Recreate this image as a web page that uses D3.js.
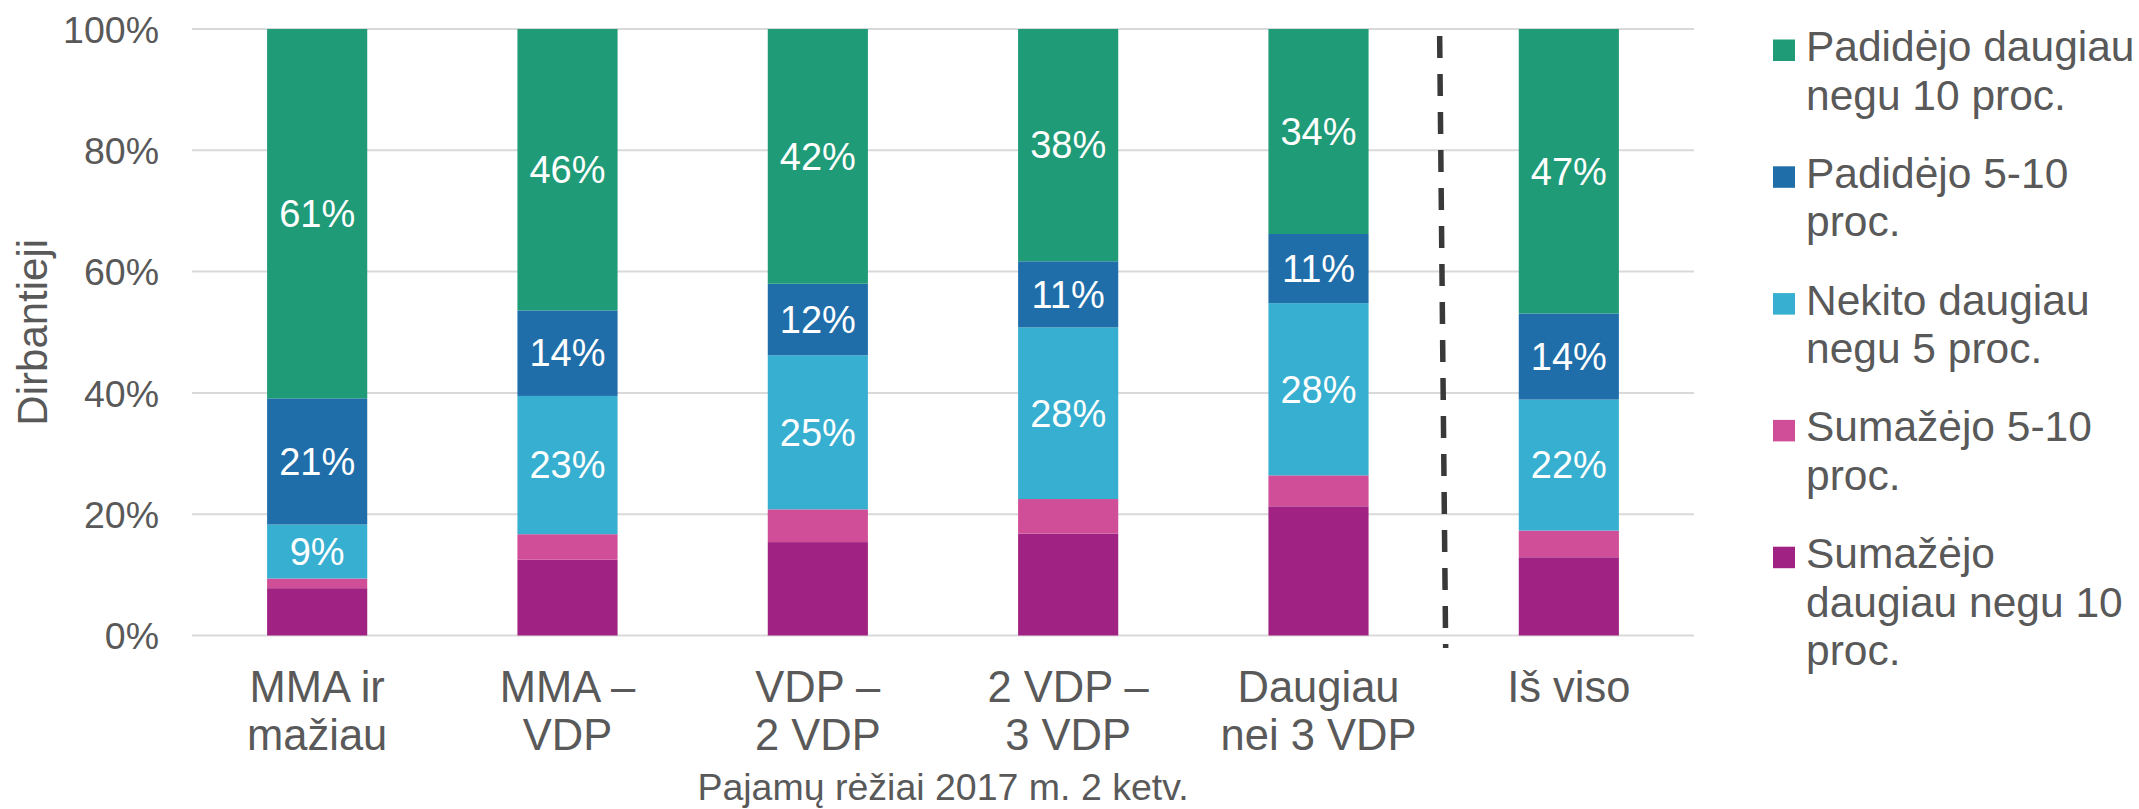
<!DOCTYPE html>
<html>
<head>
<meta charset="utf-8">
<script src="https://cdn.jsdelivr.net/npm/d3@7"></script>
<style>
  html, body { margin: 0; padding: 0; background: #ffffff; }
  svg { display: block; font-family: "Liberation Sans", Arial, sans-serif; }
</style>
</head>
<body>
<svg id="chart" width="2139" height="809"></svg>
<script>
// ---- data ----
const categories = ["MMA ir mažiau", "MMA – VDP", "VDP – 2 VDP", "2 VDP – 3 VDP", "Daugiau nei 3 VDP", "Iš viso"];
const categoryLines = [["MMA ir", "mažiau"], ["MMA –", "VDP"], ["VDP –", "2 VDP"], ["2 VDP –", "3 VDP"], ["Daugiau", "nei 3 VDP"], ["Iš viso"]];
const seriesKeys = ["decMore10", "dec5to10", "unchanged", "inc5to10", "incMore10"];
const seriesNames = ["Sumažėjo daugiau negu 10 proc.", "Sumažėjo 5-10 proc.", "Nekito daugiau negu 5 proc.", "Padidėjo 5-10 proc.", "Padidėjo daugiau negu 10 proc."];
const legendLines = [["Sumažėjo", "daugiau negu 10", "proc."], ["Sumažėjo 5-10", "proc."], ["Nekito daugiau", "negu 5 proc."], ["Padidėjo 5-10", "proc."], ["Padidėjo daugiau", "negu 10 proc."]];
const decMore10 = [7.8, 12.5, 15.4, 16.8, 21.3, 12.9];
const dec5to10  = [1.6, 4.2, 5.4, 5.7, 5.1, 4.4];
const unchanged = [8.9, 22.8, 25.4, 28.3, 28.4, 21.6];
const inc5to10  = [20.8, 14.1, 11.8, 10.9, 11.4, 14.2];
const incMore10 = [60.9, 46.4, 42.0, 38.3, 33.8, 46.9];
const labeledSeries = ["unchanged", "inc5to10", "incMore10"];
const yTicks = [0, 20, 40, 60, 80, 100];
const yTitle = "Dirbantieji";
const xTitle = "Pajamų rėžiai 2017 m. 2 ketv.";
const colors = ["#A02282", "#D04D97", "#37AFD0", "#1F6EA9", "#1F9B78"];

// ---- build table ----
const seriesValues = {decMore10, dec5to10, unchanged, inc5to10, incMore10};
const table = categories.map((c, i) => {
  const row = {category: c};
  seriesKeys.forEach(k => row[k] = seriesValues[k][i]);
  return row;
});
const stacked = d3.stack().keys(seriesKeys)(table);

// ---- layout ----
const svg = d3.select("#chart");
const plot = {left: 192, right: 1694, top: 29, bottom: 635.5};
const textColor = "#595959";

const x = d3.scaleBand().domain(categories).range([plot.left, plot.right]).paddingInner(0.6).paddingOuter(0.3);
const y = d3.scaleLinear().domain([0, 100]).range([plot.bottom, plot.top]);
const color = d3.scaleOrdinal().domain(seriesKeys).range(colors);

// gridlines
svg.append("g").selectAll("line").data(yTicks).join("line")
  .attr("x1", plot.left).attr("x2", plot.right)
  .attr("y1", d => y(d)).attr("y2", d => y(d))
  .attr("stroke", "#d9d9d9").attr("stroke-width", 2);

// y axis labels
const yAxis = d3.axisLeft(y).tickValues(yTicks).tickFormat(d => d + "%").tickSize(0).tickPadding(33);
const gy = svg.append("g").attr("transform", `translate(${plot.left},0)`).call(yAxis);
gy.select(".domain").remove();
gy.selectAll("text").attr("fill", textColor).style("font-size", "37.5px")
  .style("font-family", '"Liberation Sans", Arial, sans-serif').attr("dy", "0.35em");

// bars
const layers = svg.append("g").selectAll("g").data(stacked).join("g")
  .attr("fill", d => color(d.key));
layers.selectAll("rect").data(d => d).join("rect")
  .attr("x", d => x(d.data.category))
  .attr("width", x.bandwidth())
  .attr("y", d => y(d[1]))
  .attr("height", d => y(d[0]) - y(d[1]));

// data labels
const fmt = d3.format(".0f");
svg.append("g").selectAll("g").data(stacked.filter(s => labeledSeries.includes(s.key))).join("g")
  .selectAll("text").data(d => d).join("text")
  .attr("x", d => x(d.data.category) + x.bandwidth() / 2)
  .attr("y", d => (y(d[0]) + y(d[1])) / 2)
  .attr("dy", "0.35em")
  .attr("text-anchor", "middle")
  .attr("fill", "#ffffff")
  .style("font-size", "38px")
  .text(d => fmt(d[1] - d[0]) + "%");

// x axis labels
const gx = svg.append("g").selectAll("text").data(categories).join("text")
  .attr("x", d => x(d) + x.bandwidth() / 2)
  .attr("y", plot.bottom + 66)
  .attr("text-anchor", "middle")
  .attr("fill", textColor)
  .style("font-size", "43.5px");
gx.each(function(d, i) {
  const t = d3.select(this);
  categoryLines[i].forEach((line, j) => {
    t.append("tspan").attr("x", x(d) + x.bandwidth() / 2).attr("dy", j === 0 ? 0 : 48.3).text(line);
  });
});

// separator dashed line between last two categories
const sepX = (x(categories[4]) + x(categories[5]) + x.bandwidth()) / 2;
svg.append("line")
  .attr("x1", sepX - 4).attr("x2", sepX + 2)
  .attr("y1", 36).attr("y2", 648)
  .attr("stroke", "#393939").attr("stroke-width", 5.5)
  .attr("stroke-dasharray", "22 16");

// axis titles
svg.append("text")
  .attr("transform", `translate(47,${(plot.top + plot.bottom) / 2}) rotate(-90)`)
  .attr("text-anchor", "middle")
  .attr("fill", textColor)
  .style("font-size", "42px")
  .text(yTitle);

svg.append("text")
  .attr("x", (plot.left + plot.right) / 2)
  .attr("y", 800)
  .attr("text-anchor", "middle")
  .attr("fill", textColor)
  .style("font-size", "37.5px")
  .text(xTitle);

// legend (top series first)
const legendOrder = seriesKeys.map((k, i) => i).reverse();
const legend = svg.append("g").selectAll("g").data(legendOrder).join("g")
  .attr("transform", (d, i) => `translate(1773,${61 + i * 126.8})`);
legend.append("rect")
  .attr("x", 0).attr("y", -21.5).attr("width", 22).attr("height", 21.5)
  .attr("fill", d => colors[d]);
legend.append("text")
  .attr("x", 33).attr("y", 0)
  .attr("fill", textColor)
  .style("font-size", "42.5px")
  .each(function(d) {
    const t = d3.select(this);
    legendLines[d].forEach((line, j) => {
      t.append("tspan").attr("x", 33).attr("dy", j === 0 ? 0 : 48.5).text(line);
    });
  });
</script>
</body>
</html>
